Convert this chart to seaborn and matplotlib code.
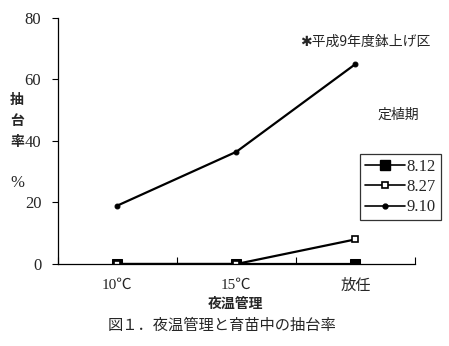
import matplotlib
matplotlib.use("Agg")
import matplotlib.pyplot as plt
import seaborn as sns
import pandas as pd

categories = ["10℃", "15℃", "放任"]
series_names = ["8.12", "8.27", "9.10"]
s_812 = [0, 0, 0]
s_827 = [0, 0, 8]
s_910 = [19, 36.5, 65]
yticks = [0, 20, 40, 60, 80]

sns.set_theme(style="white")
plt.rcParams['font.family'] = ['Liberation Serif', 'Noto Sans CJK JP']
CJK = ['Noto Sans CJK JP', 'DejaVu Sans']
MIX = ['Liberation Serif', 'Noto Sans CJK JP']

rows = []
for name, vals in zip(series_names, [s_812, s_827, s_910]):
    for i, v in enumerate(vals):
        rows.append({"x": i + 0.5, "y": v, "series": name})
df = pd.DataFrame(rows)

fig = plt.figure(figsize=(4.49, 3.46), dpi=100)
ax = fig.add_axes([0.129, 0.237, 0.795, 0.711])

styles = {
    "8.12": dict(marker="s", ms=7, mfc="black", mec="black"),
    "8.27": dict(marker="s", ms=5, mfc="white", mec="black", mew=1.2),
    "9.10": dict(marker="o", ms=3.5, mfc="black", mec="black"),
}
handles = []
for name in series_names:
    sub = df[df.series == name]
    sns.lineplot(data=sub, x="x", y="y", ax=ax, color="black", lw=1.6,
                 legend=False, **styles[name])
    h, = ax.plot([], [], color="black", lw=1.2, **styles[name])
    handles.append(h)

ax.set_xlim(0, 3)
ax.set_ylim(0, 80)
ax.set_xticks([0, 1, 2, 3])
ax.set_xticklabels([])
ax.set_xticks([0.5, 1.5, 2.5], minor=True)
ax.set_xticklabels(categories, minor=True, fontsize=11, family=MIX)
ax.tick_params(axis="x", which="major", direction="in", length=5, width=0.8, color="black", bottom=True)
ax.tick_params(axis="x", which="minor", length=0, pad=11)
ax.set_yticks(yticks)
ax.set_yticklabels([str(v) for v in yticks], fontsize=12, family=MIX)
ax.tick_params(axis="y", direction="out", length=4, width=0.8, color="black", left=True, pad=8)
ax.set_xlabel("")
ax.set_ylabel("")
for side in ["top", "right"]:
    ax.spines[side].set_visible(False)
for side in ["left", "bottom"]:
    ax.spines[side].set_color("black")
    ax.spines[side].set_linewidth(0.9)

for ch, yp in zip("抽台率", [100, 121, 142]):
    fig.text(17/449, 1-yp/346, ch, family=CJK, fontsize=10, weight="bold",
             ha="center", va="center")
fig.text(17/449, 1-183/346, "%", family=MIX, fontsize=12, ha="center", va="center")
fig.text(365/449, 1-42/346, "✱平成9年度鉢上げ区", family=['Noto Sans CJK JP', 'DejaVu Sans'],
         fontsize=10, ha="center", va="center")
fig.text(398/449, 1-115/346, "定植期", family=CJK, fontsize=10, ha="center", va="center")
fig.text(236/449, 1-304/346, "夜温管理", family=CJK, fontsize=10, weight="bold", ha="center", va="center")
fig.text(222/449, 1-325/346, "図１．夜温管理と育苗中の抽台率", family=CJK, fontsize=11, ha="center", va="center")

leg = fig.legend(handles, series_names, loc="upper right", bbox_to_anchor=(441/449, 1-154/346),
                 frameon=True, fancybox=False, edgecolor="black",
                 handlelength=2.4, handletextpad=0.1, labelspacing=0.25, borderpad=0.3,
                 borderaxespad=0, prop={'family': MIX, 'size': 12})
leg.get_frame().set_linewidth(0.9)

fig.savefig("out.png", dpi=100)
